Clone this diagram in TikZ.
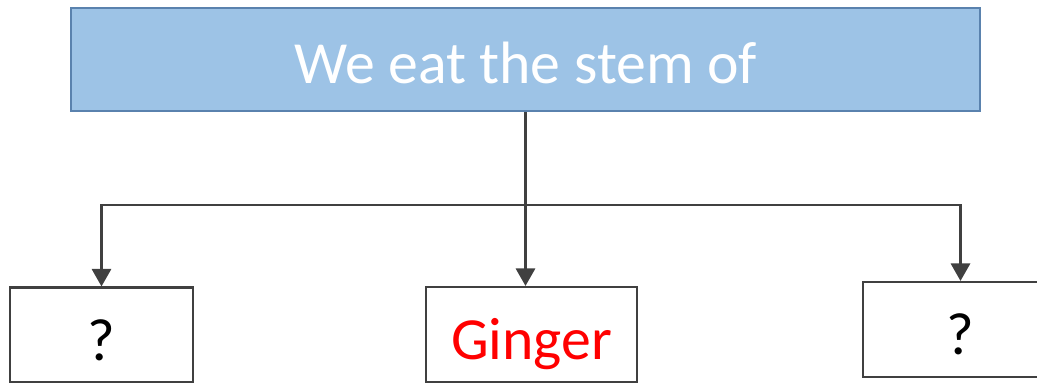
\documentclass[tikz,border=0pt]{standalone}
\usepackage{fontspec}
\setmainfont{Carlito}
\usetikzlibrary{calc,arrows.meta}
\tikzset {>={Triangle[width=11pt,length=10pt]}}
\definecolor{stemblue}{HTML}{9DC3E6}
\definecolor{stemedge}{HTML}{5A82AE}
\definecolor{linegray}{HTML}{404040}
\tikzset{
  headbox/.style={draw=stemedge,line width=1.2pt,fill=stemblue,text=white,
    minimum width=18.18cm,minimum height=2.06cm,inner sep=0pt,
    text height=27pt,text depth=0pt},
  leafbox/.style={draw=linegray,line width=1.2pt,fill=white,
    minimum height=1.9cm,inner sep=0pt,text height=29pt,text depth=0pt},
  link/.style={->,draw=linegray,line width=1.3pt}
}
\newcommand*{\lbl}[1]{{\fontsize{34}{41}\selectfont #1}}

\begin{document}
\begin{tikzpicture}
\useasboundingbox (0,0) rectangle (20.74,7.66);
\node[headbox] (stem) at (10.51,6.47) {\lbl{We eat the stem of}};
\node[leafbox,minimum width=3.66cm] (q1) at (2.03,0.96) {\lbl{?}};
\node[leafbox,minimum width=4.22cm] (ginger) at (10.63,0.97) {\lbl{\color{red}Ginger}};
\node[leafbox,minimum width=3.9cm] (q2) at (19.21,1.07) {\lbl{?}};
\coordinate (split) at ($(stem.south)+(0,-1.86)$);
\draw[link] (stem.south) -- (stem.south |- ginger.north);
\draw[link] (split) -| (q1.north);
\draw[link] (split) -| (q2.north);
\end{tikzpicture}
\end{document}
